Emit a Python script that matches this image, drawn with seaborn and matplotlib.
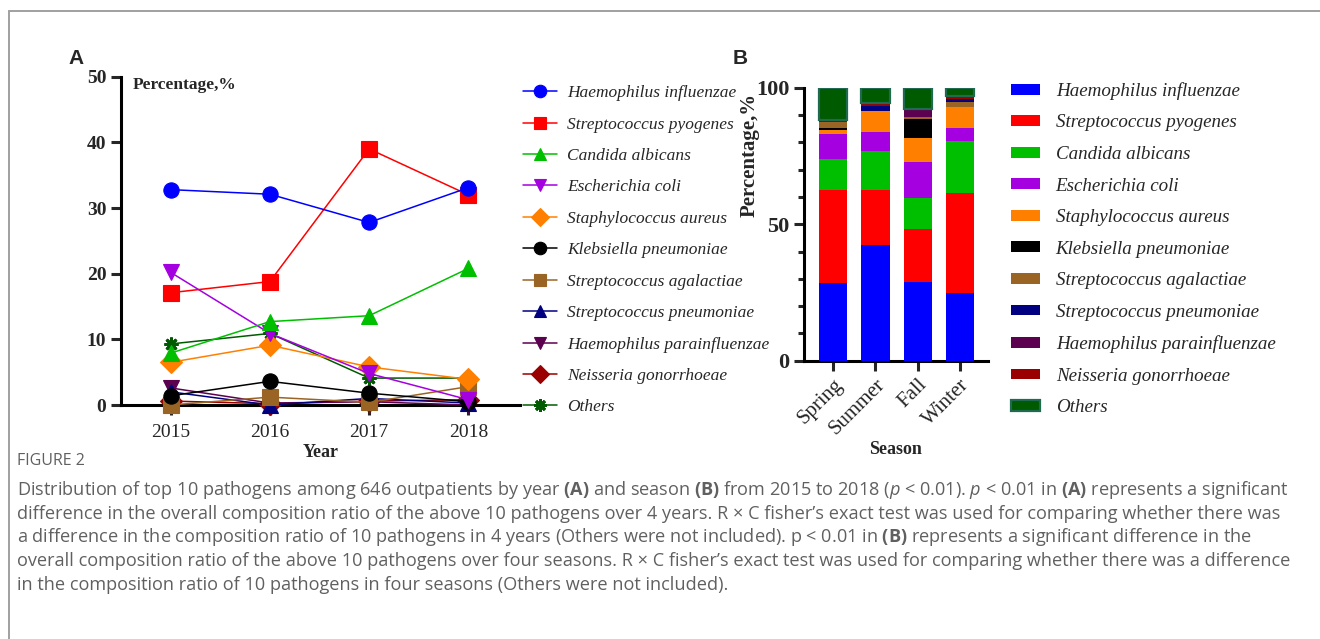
import numpy as np
import pandas as pd
import matplotlib
matplotlib.use("Agg")
import matplotlib.pyplot as plt
import seaborn as sns
from matplotlib.lines import Line2D
from matplotlib.patches import Patch

pathogens = [
    "Haemophilus influenzae", "Streptococcus pyogenes", "Candida albicans",
    "Escherichia coli", "Staphylococcus aureus", "Klebsiella pneumoniae",
    "Streptococcus agalactiae", "Streptococcus pneumoniae",
    "Haemophilus parainfluenzae", "Neisseria gonorrhoeae", "Others",
]
colors = ["#0000ff", "#ff0000", "#00bf00", "#a400e0", "#ff8000", "#000000",
          "#9a6424", "#000080", "#5c0050", "#9a0000", "#005a00"]
line_markers = ["o", "s", "^", "v", "D", "o", "s", "^", "v", "D", (8, 2, 0)]

# panel A: percentage by year
years = [2015, 2016, 2017, 2018]
year_h_inf = [32.8, 32.1, 27.8, 33.1]
year_s_pyo = [17.1, 18.8, 39.0, 32.0]
year_c_alb = [7.9, 12.7, 13.6, 20.8]
year_e_coli = [20.2, 10.9, 4.8, 0.8]
year_s_aur = [6.5, 9.1, 5.8, 3.9]
year_k_pn = [1.4, 3.6, 1.8, 0.5]
year_s_aga = [0.0, 1.2, 0.4, 2.8]
year_s_pneu = [2.0, 0.0, 1.0, 0.3]
year_h_para = [2.6, 0.3, 0.5, 0.0]
year_n_gon = [0.6, 0.2, 0.6, 0.8]
year_others = [9.3, 10.9, 4.1, 4.1]

# panel B: percentage by season
seasons = ["Spring", "Summer", "Fall", "Winter"]
sea_h_inf = [28.3, 42.5, 28.7, 24.7]
sea_s_pyo = [34.2, 20.0, 19.5, 36.6]
sea_c_alb = [11.4, 14.4, 11.5, 19.2]
sea_e_coli = [9.0, 7.0, 13.2, 4.8]
sea_s_aur = [1.6, 7.6, 8.5, 7.5]
sea_k_pn = [0.8, 0.0, 7.0, 0.0]
sea_s_aga = [2.0, 0.0, 0.7, 1.8]
sea_s_pneu = [0.0, 1.9, 0.0, 1.1]
sea_h_para = [0.0, 0.0, 3.0, 0.0]
sea_n_gon = [0.9, 0.9, 0.0, 1.1]
sea_others = [11.8, 5.7, 7.9, 3.2]

year_series = [year_h_inf, year_s_pyo, year_c_alb, year_e_coli, year_s_aur, year_k_pn,
               year_s_aga, year_s_pneu, year_h_para, year_n_gon, year_others]
season_series = [sea_h_inf, sea_s_pyo, sea_c_alb, sea_e_coli, sea_s_aur, sea_k_pn,
                 sea_s_aga, sea_s_pneu, sea_h_para, sea_n_gon, sea_others]

sns.set_style("white")
plt.rcParams["font.family"] = ["Liberation Serif", "DejaVu Serif"]
plt.rcParams["mathtext.fontset"] = "custom"
plt.rcParams["mathtext.rm"] = "Open Sans"
plt.rcParams["mathtext.it"] = "Open Sans:italic"
plt.rcParams["mathtext.bf"] = "Open Sans:bold"

W, H = 1320, 639
fig = plt.figure(figsize=(W / 100, H / 100), dpi=100)

def fx(px):
    return px / W

def fy(py):
    return 1 - py / H

SPINE = 2.2

# ---------- panel A ----------
axA = fig.add_axes([fx(121), fy(405), fx(520) - fx(121), fy(76.7) - fy(405)])
for i in reversed(range(len(pathogens))):
    df = pd.DataFrame({"year": years, "pct": year_series[i]})
    mk = line_markers[i]
    sns.lineplot(data=df, x="year", y="pct", ax=axA, color=colors[i], marker=mk,
                 markersize=11 if mk != (8, 2, 0) else 10,
                 markeredgecolor=colors[i], markeredgewidth=2 if mk == (8, 2, 0) else 0.8,
                 linewidth=1.1, clip_on=False, zorder=4 + (len(pathogens) - i) * 0.1)

axA.set_xlim(2014.5, 2018.52)
axA.set_ylim(0, 50)
axA.set_xticks(years)
axA.set_yticks(range(0, 51, 10))
axA.set_xlabel("Year", fontsize=13, fontweight="bold", labelpad=2)
axA.set_ylabel("")
axA.text(0.03, 1.0, "Percentage,%", transform=axA.transAxes, fontsize=12.5,
         fontweight="bold", va="top", ha="left")
for lab in axA.get_yticklabels():
    lab.set_fontweight("bold")
axA.tick_params(axis="both", direction="out", length=7.5, width=SPINE, labelsize=14,
                bottom=True, left=True, pad=3)
axA.tick_params(axis="x", pad=6)
sns.despine(ax=axA)
for s in ["left", "bottom"]:
    axA.spines[s].set_linewidth(SPINE)
    axA.spines[s].set_color("black")

leg_handles = [Line2D([], [], color=colors[i], marker=line_markers[i], lw=1.1,
                      markersize=9,
                      markeredgecolor=colors[i],
                      markeredgewidth=2 if line_markers[i] == (8, 2, 0) else 0.8)
               for i in range(len(pathogens))]
fig.legend(leg_handles, pathogens, loc="upper left", bbox_to_anchor=(fx(523), fy(85)),
           frameon=False, prop={"family": "Liberation Serif", "style": "italic", "size": 12.5},
           handlelength=1.95, handletextpad=0.6, labelspacing=0.88, borderpad=0,
           borderaxespad=0)

fig.text(fx(68), fy(58), "A", fontsize=15, fontweight="bold", family="Liberation Sans",
         ha="left", va="center")

# ---------- panel B ----------
axB = fig.add_axes([fx(804), fy(360.7), fx(988) - fx(804), fy(87.7) - fy(360.7)])
bottom = np.zeros(len(seasons))
for i in range(len(pathogens)):
    vals = np.array(season_series[i])
    if pathogens[i] == "Others":
        ec, lw = "#1f6a50", 1.6
    else:
        ec, lw = colors[i], 0
    sns.barplot(x=seasons, y=vals, ax=axB, color=colors[i], width=0.67, bottom=bottom,
                edgecolor=ec, linewidth=lw, saturation=1, zorder=3)
    bottom = bottom + vals

axB.set_xlim(-0.686, 3.66)
axB.set_ylim(0, 100)
axB.set_yticks([0, 50, 100])
axB.set_yticks(range(0, 101, 10), minor=True)
axB.set_xlabel("Season", fontsize=13, fontweight="bold", labelpad=2)
axB.set_ylabel("Percentage,%", fontsize=15, fontweight="bold")
axB.yaxis.set_label_coords(-0.24, 0.753)
axB.tick_params(axis="both", which="major", direction="out", length=7.5, width=SPINE, pad=3)
axB.tick_params(axis="y", which="minor", direction="out", length=4, width=SPINE, left=True)
axB.tick_params(axis="x", bottom=True, labelsize=15)
axB.tick_params(axis="y", labelsize=16, left=True)
for lab in axB.get_yticklabels():
    lab.set_fontweight("bold")
for lab in axB.get_xticklabels():
    lab.set_rotation(45)
    lab.set_ha("right")
    lab.set_rotation_mode("anchor")
sns.despine(ax=axB)
for s in ["left", "bottom"]:
    axB.spines[s].set_linewidth(SPINE)
    axB.spines[s].set_color("black")

patch_handles = []
for i in range(len(pathogens)):
    if pathogens[i] == "Others":
        patch_handles.append(Patch(facecolor=colors[i], edgecolor="#1f6a50", linewidth=1.6))
    else:
        patch_handles.append(Patch(facecolor=colors[i], edgecolor=colors[i], linewidth=0))
fig.legend(patch_handles, pathogens, loc="upper left", bbox_to_anchor=(fx(1011), fy(82)),
           frameon=False, prop={"family": "Liberation Serif", "style": "italic", "size": 13.7},
           handlelength=1.5, handleheight=0.5, handletextpad=0.85, labelspacing=0.765,
           borderpad=0, borderaxespad=0)

fig.text(fx(733), fy(58), "B", fontsize=15, fontweight="bold", family="Liberation Sans",
         ha="left", va="center")

# ---------- frame and caption ----------
fig.add_artist(Line2D([fx(9), 1], [fy(10.5), fy(10.5)], transform=fig.transFigure,
                      color="#a0a0a0", lw=1.4))
fig.add_artist(Line2D([fx(9), fx(9)], [fy(10.5), 0], transform=fig.transFigure,
                      color="#a0a0a0", lw=1.4))

cap_color = "#606060"
fig.text(fx(17), fy(461), "FIGURE 2", fontsize=11.5, family="Open Sans", color=cap_color,
         ha="left", va="center")
caption_lines = [
    r"Distribution of top 10 pathogens among 646 outpatients by year $\mathbf{(A)}$ and season "
    r"$\mathbf{(B)}$ from 2015 to 2018 ($\mathit{p}$ < 0.01). $\mathit{p}$ < 0.01 in $\mathbf{(A)}$ represents a significant",
    "difference in the overall composition ratio of the above 10 pathogens over 4 years. "
    "R × C fisher\u2019s exact test was used for comparing whether there was",
    r"a difference in the composition ratio of 10 pathogens in 4 years (Others were not included). "
    r"p < 0.01 in $\mathbf{(B)}$ represents a significant difference in the",
    "overall composition ratio of the above 10 pathogens over four seasons. "
    "R × C fisher\u2019s exact test was used for comparing whether there was a difference",
    "in the composition ratio of 10 pathogens in four seasons (Others were not included).",
]
for k, line in enumerate(caption_lines):
    fig.text(fx(17), fy(495 + k * 23.7), line, fontsize=13.1, family="Open Sans",
             color=cap_color, ha="left", va="baseline")

fig.savefig("out.png", dpi=100)
